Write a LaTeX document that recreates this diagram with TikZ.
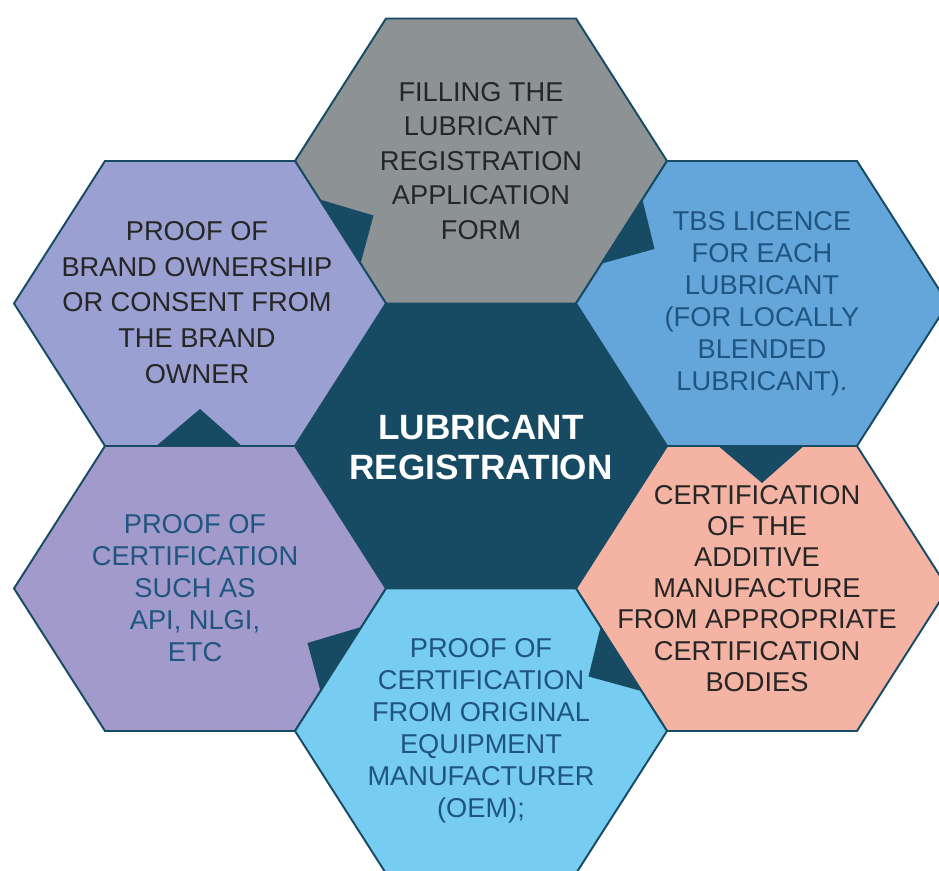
\documentclass[tikz,border=0pt]{standalone}
\usepackage{fontspec}
\setmainfont{Liberation Sans}
\usepackage{tikz}
\usetikzlibrary{calc}
\usepackage{xcolor}
\definecolor{hubteal}{HTML}{174B64}
\definecolor{formgray}{HTML}{8D9294}
\definecolor{brandlav}{HTML}{9AA0D2}
\definecolor{tbsblue}{HTML}{64A5DA}
\definecolor{apipurple}{HTML}{A29ACA}
\definecolor{addsalmon}{HTML}{F4B3A3}
\definecolor{oemsky}{HTML}{76CDF1}
\definecolor{inkblue}{HTML}{1F5580}
\tikzset{
  hexline/.style={draw=hubteal, line width=1.1pt, line join=miter},
  lbl/.style={align=center, inner sep=0pt, font=\fontsize{15.5}{18.2}\selectfont},
}
% hexagon around a named centre: #1 centre, #2 fill
\newcommand{\hexcell}[2]{%
  \coordinate (#1-w)  at ($(#1)+(-3.72,0)$);
  \coordinate (#1-nw) at ($(#1)+(-1.90,2.85)$);
  \coordinate (#1-ne) at ($(#1)+(1.90,2.85)$);
  \coordinate (#1-e)  at ($(#1)+(3.72,0)$);
  \coordinate (#1-se) at ($(#1)+(1.90,-2.85)$);
  \coordinate (#1-sw) at ($(#1)+(-1.90,-2.85)$);
  \filldraw[hexline, fill=#2] (#1-w) -- (#1-nw) -- (#1-ne) -- (#1-e) -- (#1-se) -- (#1-sw) -- cycle;}
% pointer on the shared edge #1--#2, pointing into #3
\newcommand{\notch}[3]{%
  \coordinate (mid) at ($(#1)!0.5!(#2)$);
  \fill[hubteal] ($(#1)!0.27!(#2)$) -- ($(mid)!0.74cm!(#3)$) -- ($(#1)!0.72!(#2)$) -- cycle;}

\begin{document}
\begin{tikzpicture}
    \useasboundingbox (0,0) rectangle (18.78,17.42);
    \clip (0,0) rectangle (18.78,17.42);
    % Centres
    \coordinate (hub) at (9.62,8.50);
    \coordinate (form) at ($(hub)+(0,5.70)$);
    \coordinate (brand) at ($(hub)+(-5.62,2.85)$);
    \coordinate (tbs) at ($(hub)+(5.62,2.85)$);
    \coordinate (api) at ($(hub)+(-5.62,-2.85)$);
    \coordinate (additive) at ($(hub)+(5.62,-2.85)$);
    \coordinate (oem) at ($(hub)+(0,-5.70)$);
    % Cells
    \hexcell{hub}{hubteal}
    \hexcell{form}{formgray}
    \hexcell{brand}{brandlav}
    \hexcell{tbs}{tbsblue}
    \hexcell{api}{apipurple}
    \hexcell{additive}{addsalmon}
    \hexcell{oem}{oemsky}
    % Pointers
    \notch{form-w}{form-sw}{form}
    \notch{form-e}{form-se}{tbs}
    \notch{tbs-sw}{tbs-se}{additive}
    \notch{oem-ne}{oem-e}{oem}
    \notch{oem-nw}{oem-w}{api}
    \notch{api-nw}{api-ne}{brand}
    % Texts
    \node[font=\bfseries\fontsize{20}{22.7}\selectfont, text=white, align=center, inner sep=0pt]
         (hubtext) at ($(hub)+(0,-0.02)$) {LUBRICANT\\REGISTRATION};
    \node[lbl, font=\fontsize{15.5}{19.6}\selectfont, text=black!85] (formtext) at ($(form)+(0,0)$)
         {FILLING THE\\LUBRICANT\\REGISTRATION\\APPLICATION\\FORM};
    \node[lbl, font=\fontsize{15.5}{20.4}\selectfont, text=black!85] (brandtext) at ($(brand)+(-0.06,0.02)$)
         {PROOF OF\\BRAND OWNERSHIP\\OR CONSENT FROM\\THE BRAND\\OWNER};
    \node[lbl, text=inkblue] (tbstext) at ($(tbs)+(0,0)$)
         {TBS LICENCE\\FOR EACH\\LUBRICANT\\(FOR LOCALLY\\BLENDED\\LUBRICANT).};
    \node[lbl, text=inkblue] (apitext) at ($(api)+(-0.1,0)$)
         {PROOF OF\\CERTIFICATION\\SUCH AS\\API, NLGI,\\ETC};
    \node[lbl, font=\fontsize{15.5}{17.7}\selectfont, text=black!85] (additivetext) at ($(additive)+(-0.1,0)$)
         {CERTIFICATION\\OF THE\\ADDITIVE\\MANUFACTURE\\FROM APPROPRIATE\\CERTIFICATION\\BODIES};
    \node[lbl, text=inkblue] (oemtext) at ($(oem)+(0,0)$)
         {PROOF OF\\CERTIFICATION\\FROM ORIGINAL\\EQUIPMENT\\MANUFACTURER\\(OEM);};
\end{tikzpicture}
\end{document}
